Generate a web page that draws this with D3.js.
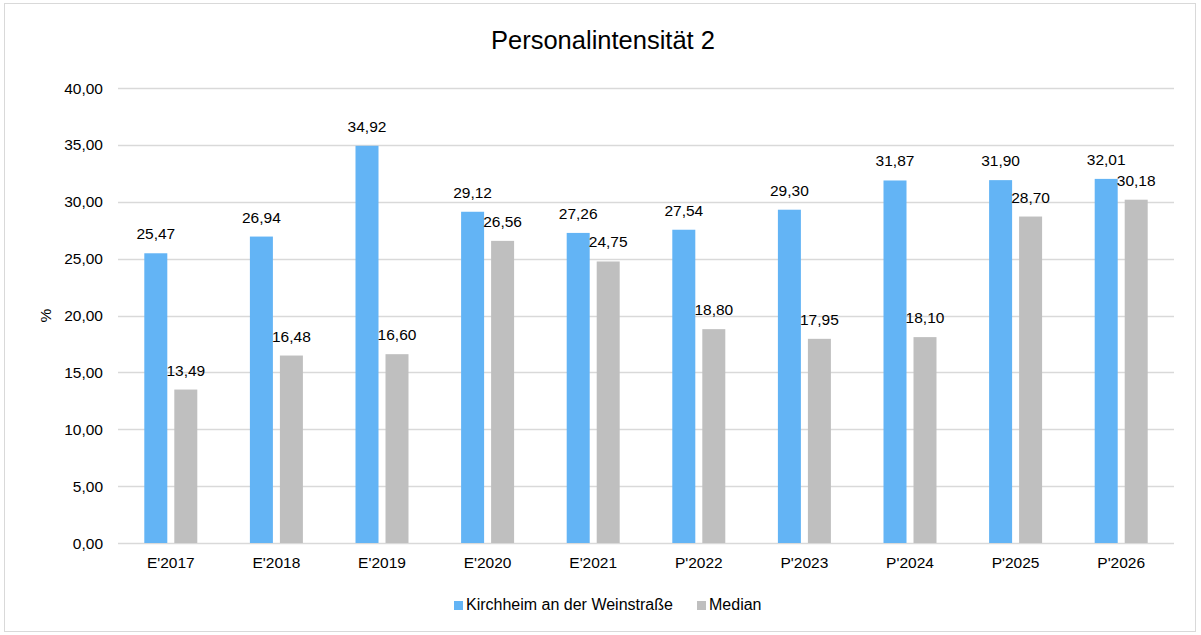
<!DOCTYPE html>
<html>
<head>
<meta charset="utf-8">
<script src="https://cdn.jsdelivr.net/npm/d3@7"></script>
<style>
  body { margin: 0; background: #fff; }
  text { font-family: "Liberation Sans", Arial, sans-serif; fill: #000; }
</style>
</head>
<body>
<svg id="chart" width="1201" height="635"></svg>
<script>
// data
var categories = ["E'2017", "E'2018", "E'2019", "E'2020", "E'2021", "P'2022", "P'2023", "P'2024", "P'2025", "P'2026"]
var kirchheim = [25.47, 26.94, 34.92, 29.12, 27.26, 27.54, 29.30, 31.87, 31.90, 32.01]
var median = [13.49, 16.48, 16.60, 26.56, 24.75, 18.80, 17.95, 18.10, 28.70, 30.18]
var seriesNames = ["Kirchheim an der Weinstraße", "Median"]
var yTicks = [0, 5, 10, 15, 20, 25, 30, 35, 40]

var colors = ["#63b4f5", "#bfbfbf"]
var fmt = function(v) { return d3.format(".2f")(v).replace(".", ","); };

var svg = d3.select("#chart");

// outer border
svg.append("rect")
    .attr("x", 4.5).attr("y", 3.5)
    .attr("width", 1191).attr("height", 628)
    .attr("fill", "#fff")
    .attr("stroke", "#d9d9d9");

// plot area (window.top is reserved, so use other names)
var plotL = 118, plotR = 1174, plotT = 88, plotB = 543;

var x = d3.scaleBand().domain(categories).range([plotL, plotR]);
var y = d3.scaleLinear().domain([0, 40]).range([plotB, plotT]);

// gridlines
svg.append("g").selectAll("line")
    .data(yTicks)
    .join("line")
    .attr("x1", plotL).attr("x2", plotR)
    .attr("y1", function(d) { return Math.round(y(d)) + 0.5; })
    .attr("y2", function(d) { return Math.round(y(d)) + 0.5; })
    .attr("stroke", "#d9d9d9")
    .attr("stroke-width", 1.3);

// y tick labels
svg.append("g").selectAll("text")
    .data(yTicks)
    .join("text")
    .attr("x", 103)
    .attr("y", function(d) { return y(d) + 5.5; })
    .attr("text-anchor", "end")
    .attr("font-size", "15.5px")
    .text(fmt);

// y axis title
svg.append("text")
    .attr("transform", "translate(51," + ((plotT + plotB) / 2) + ") rotate(-90)")
    .attr("text-anchor", "middle")
    .attr("font-size", "15.5px")
    .text("%");

// bars
var barW = 23, gap = 7;
var series = [kirchheim, median];
series.forEach(function(vals, si) {
  var off = si == 0 ? -(barW + gap) / 2 : (barW + gap) / 2;
  var g = svg.append("g");
  g.selectAll("rect")
      .data(vals)
      .join("rect")
      .attr("x", function(d, i) { return x(categories[i]) + x.bandwidth() / 2 + off - barW / 2; })
      .attr("y", function(d) { return y(d); })
      .attr("width", barW)
      .attr("height", function(d) { return plotB - y(d); })
      .attr("fill", colors[si]);
  g.selectAll("text")
      .data(vals)
      .join("text")
      .attr("x", function(d, i) { return x(categories[i]) + x.bandwidth() / 2 + off; })
      .attr("y", function(d) { return y(d) - 14; })
      .attr("text-anchor", "middle")
      .attr("font-size", "15.5px")
      .text(fmt);
});

// x labels
svg.append("g").selectAll("text")
    .data(categories)
    .join("text")
    .attr("x", function(d) { return x(d) + x.bandwidth() / 2; })
    .attr("y", 568)
    .attr("text-anchor", "middle")
    .attr("font-size", "15.5px")
    .text(function(d) { return d; });

// title
svg.append("text")
    .attr("x", 603).attr("y", 49)
    .attr("text-anchor", "middle")
    .attr("font-size", "25.5px")
    .text("Personalintensität 2");

// legend
var legendX = [454, 697];
seriesNames.forEach(function(n, i) {
  svg.append("rect")
      .attr("x", legendX[i]).attr("y", 601)
      .attr("width", 9).attr("height", 9)
      .attr("fill", colors[i]);
  svg.append("text")
      .attr("x", legendX[i] + 12).attr("y", 610)
      .attr("font-size", "16px")
      .text(n);
});
</script>
</body>
</html>
